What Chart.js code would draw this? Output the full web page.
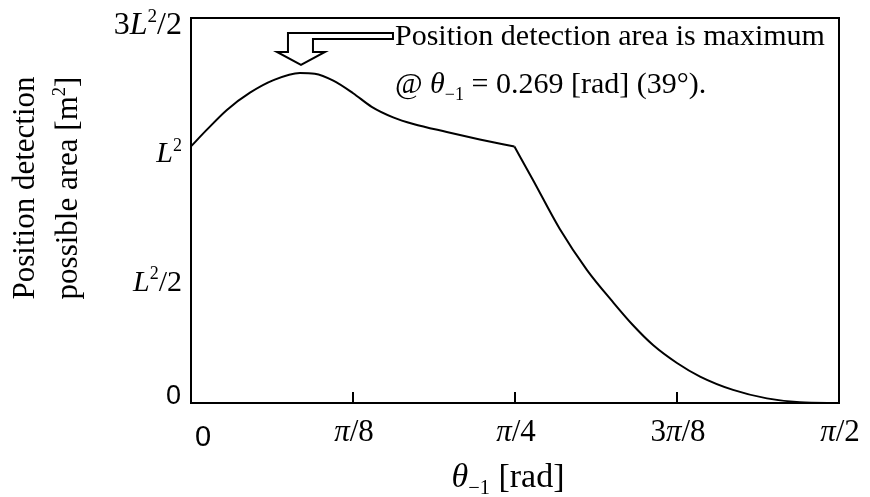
<!DOCTYPE html>
<html>
<head>
<meta charset="utf-8">
<script src="https://cdn.jsdelivr.net/npm/chart.js@4"></script>
<style>html,body{margin:0;padding:0;background:#fff;}</style>
</head>
<body>
<canvas id="areaChart" width="870" height="497"></canvas>
<script>
// theta_-1 [rad] and position detection possible area [L^2]
const theta=[0,0.038,0.087,0.143,0.200,0.264,0.300,0.345,0.393,0.438,0.490,0.539,0.620,0.700,0.784,0.829,0.894,0.960,1.023,1.071,1.120,1.178,1.234,1.314,1.396,1.476,1.5708];
const area=[1.000,1.064,1.142,1.209,1.258,1.286,1.283,1.256,1.207,1.154,1.113,1.087,1.056,1.027,0.999,0.869,0.678,0.518,0.393,0.304,0.226,0.156,0.103,0.051,0.018,0.003,0];
const kinkTheta=0.784; // the curve breaks at pi/4

const xTickVals=[0,Math.PI/8,Math.PI/4,3*Math.PI/8,Math.PI/2];
const xTickLabels=['0','π/8','π/4','3π/8','π/2'];
const yTickVals=[0,0.5,1,1.5];
const yTickLabels=['0','L²/2','L²','3L²/2'];

const xTitle='θ₋₁ [rad]';
const yTitle=['Position detection','possible area [m²]'];
const note=['Position detection area is maximum','@ θ₋₁ = 0.269 [rad] (39°).'];
const peakTheta=0.269;

const SERIF='"Liberation Serif","Times New Roman",serif';
const SANS='"Liberation Sans",Arial,sans-serif';

// split a label into styled runs: L, π, θ italic; ² superscript; ₋₁ subscript
function splitRich(str){
  let out=[];
  for(const ch of str){
    let p;
    if(ch==='²') p={t:'2',sup:1};
    else if(ch==='₋') p={t:'−',sub:1};
    else if(ch==='₁') p={t:'1',sub:1};
    else if('Lπθ'.includes(ch)) p={t:ch,it:1};
    else p={t:ch};
    let last=out[out.length-1];
    if(last && !!last.sup===!!p.sup && !!last.sub===!!p.sub && !!last.it===!!p.it) last.t+=p.t;
    else out.push(p);
  }
  return out;
}

function drawRich(ctx,str,x,y,size,align,family){
  const runs=splitRich(str);
  let w=0;
  runs.forEach(r=>{
    let s=(r.sup||r.sub)?size*0.6:size;
    r.font=(r.it?'italic ':'')+s+'px '+family;
    r.dy=r.sup?-size*0.38:(r.sub?size*0.22:0);
    ctx.font=r.font;
    r.w=ctx.measureText(r.t).width;
    w+=r.w;
  });
  let cx=align==='right'?x-w:(align==='center'?x-w/2:x);
  ctx.textAlign='left';
  runs.forEach(r=>{
    ctx.font=r.font;
    ctx.fillText(r.t,cx,y+r.dy);
    cx+=r.w;
  });
}

const decor={
  id:'decor',
  afterDraw(chart){
    const ctx=chart.ctx, a=chart.chartArea;
    const xs=chart.scales.x, ys=chart.scales.y;
    ctx.save();
    ctx.fillStyle='#000';
    ctx.strokeStyle='#000';

    // frame
    ctx.lineWidth=2;
    ctx.strokeRect(a.left,a.top,a.right-a.left,a.bottom-a.top);

    // inner ticks on x axis
    ctx.beginPath();
    xTickVals.slice(1,-1).forEach(v=>{
      let px=Math.round(xs.getPixelForValue(v));
      ctx.moveTo(px,a.bottom);
      ctx.lineTo(px,a.bottom-11);
    });
    ctx.stroke();

    // tick labels
    ctx.textBaseline='alphabetic';
    xTickVals.forEach((v,i)=>{
      let px=xs.getPixelForValue(v);
      if(xTickLabels[i]==='0'){
        ctx.font='29px '+SANS; ctx.textAlign='center';
        ctx.fillText('0',px+12,446);
      } else drawRich(ctx,xTickLabels[i],px+1,441,31,'center',SERIF);
    });
    yTickVals.forEach((v,i)=>{
      let py=ys.getPixelForValue(v);
      if(yTickLabels[i]==='0'){
        ctx.font='27px '+SANS; ctx.textAlign='right';
        ctx.fillText('0',181,404);
      } else drawRich(ctx,yTickLabels[i],182,py+16,i===3?32:30,'right',SERIF);
    });

    // axis titles
    drawRich(ctx,xTitle,508,487,34,'center',SERIF);
    ctx.save();
    ctx.translate(0,188);
    ctx.rotate(-Math.PI/2);
    drawRich(ctx,yTitle[0],0,34,31,'center',SERIF);
    drawRich(ctx,yTitle[1],0,77,31,'center',SERIF);
    ctx.restore();

    // hollow arrow pointing at the maximum
    let peak=Math.max(...area);
    let tx=xs.getPixelForValue(peakTheta)-1, ty=ys.getPixelForValue(peak)-8;
    ctx.beginPath();
    ctx.moveTo(tx,ty);
    ctx.lineTo(tx+24,ty-13);
    ctx.lineTo(tx+12,ty-13);
    ctx.lineTo(tx+12,ty-26);
    ctx.lineTo(tx+92,ty-26);
    ctx.lineTo(tx+92,ty-32);
    ctx.lineTo(tx-13,ty-32);
    ctx.lineTo(tx-13,ty-13);
    ctx.lineTo(tx-24,ty-13);
    ctx.closePath();
    ctx.fillStyle='#fff';
    ctx.fill();
    ctx.lineWidth=2;
    ctx.stroke();
    ctx.fillStyle='#000';

    drawRich(ctx,note[0],tx+94,ty-20,30,'left',SERIF);
    drawRich(ctx,note[1],tx+94,ty+28,30,'left',SERIF);
    ctx.restore();
  }
};

// same curve split at the kink so each part is smoothed on its own
const pts=theta.map((t,i)=>({x:t,y:area[i]}));
const k=theta.indexOf(kinkTheta);
const lineStyle={borderColor:'#000',borderWidth:2,pointRadius:0,cubicInterpolationMode:'monotone',fill:false};

new Chart(document.getElementById('areaChart'),{
  type:'line',
  data:{
    datasets:[
      Object.assign({data:pts.slice(0,k+1)},lineStyle),
      Object.assign({data:pts.slice(k)},lineStyle)
    ]
  },
  options:{
    responsive:false,
    animation:false,
    layout:{padding:{left:191,top:18,right:31,bottom:94}},
    scales:{
      x:{type:'linear',min:0,max:Math.PI/2,display:false},
      y:{type:'linear',min:0,max:1.5,display:false}
    },
    plugins:{legend:{display:false},tooltip:{enabled:false}}
  },
  plugins:[decor]
});
</script>
</body>
</html>
